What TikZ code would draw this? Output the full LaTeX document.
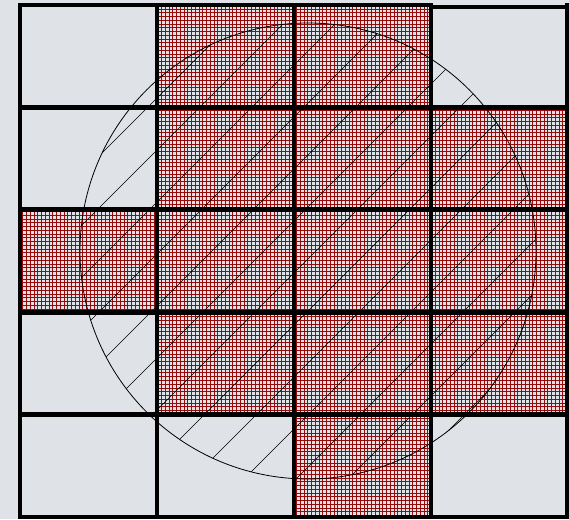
\documentclass[tikz,border=0pt]{standalone}
\definecolor{bggray}{RGB}{223,226,231}
\definecolor{meshred}{RGB}{150,10,10}
\tikzset{
  meshlines/.style={meshred,line width=0.5pt},
  hatchlines/.style={black,line width=0.6pt},
  cellrule/.style={black,line width=3.5pt},
  rowrule/.style={black,line width=5pt}
}
\begin{document}
\begin{tikzpicture}[x=1pt,y=1pt]
  \fill[bggray] (0,0) rectangle (569,519);
  \useasboundingbox (0,0) rectangle (569,519);
  % meshed cells (column/row, row 0 at the bottom)
  \foreach \c/\r in {1/4,2/4,1/3,2/3,3/3,0/2,1/2,2/2,3/2,1/1,2/1,3/1,2/0} {
    \begin{scope}
      \clip ({20+137*\c},{2+102.4*\r}) rectangle ++(137,102.4);
      \draw[meshlines,step=3.75] ({20+137*\c},{2+102.4*\r}) grid ++(137,102.4);
    \end{scope}
  }
  % hatched disc
  \begin{scope}
    \clip (308,268) circle (228);
    \foreach \k in {0,...,20}
      \draw[hatchlines] (-50,{472-52*\k-50}) -- ++(700,700);
  \end{scope}
  \draw[black,line width=0.8pt] (308,268) circle (228);
  % cell borders
  \foreach \x in {20,157,294,431,567}
    \draw[cellrule] (\x,0.5) -- (\x,515.5);
  \foreach \y in {411.6,309.2,206.8,104.4}
    \draw[rowrule] (18.25,\y) -- (568.75,\y);
  \draw[cellrule] (18.25,514) -- (431,514);
  \draw[cellrule] (431,512) -- (568.75,512);
  \draw[cellrule] (18.25,2) -- (568.75,2);
\end{tikzpicture}
\end{document}
